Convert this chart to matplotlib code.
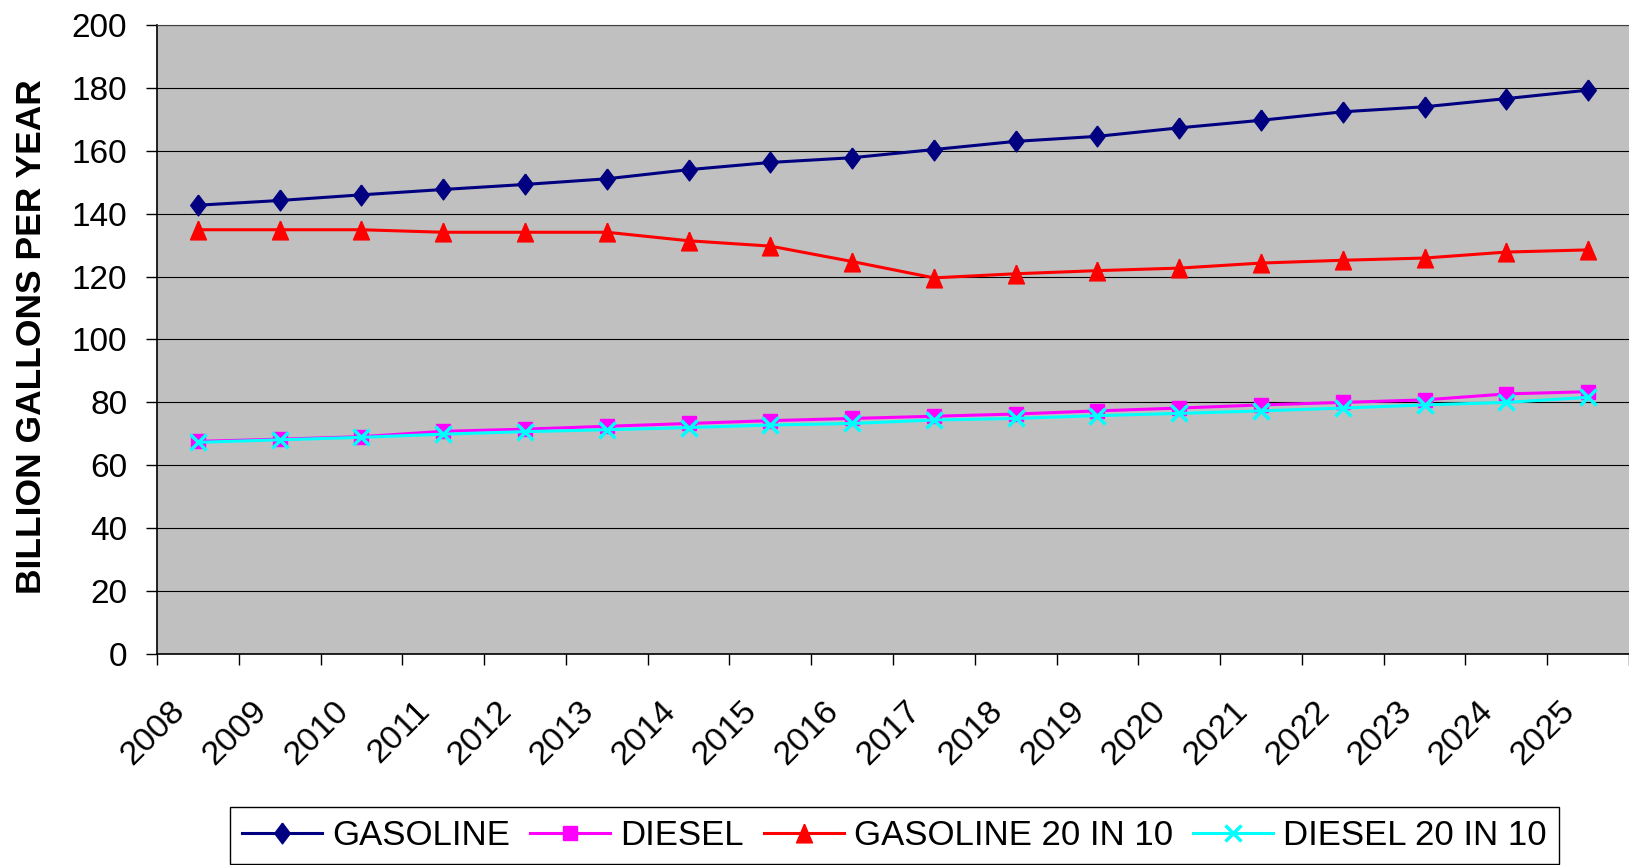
import matplotlib
matplotlib.use("Agg")
import matplotlib.pyplot as plt
import matplotlib.transforms as mtransforms
import numpy as np

years = ["2008", "2009", "2010", "2011", "2012", "2013", "2014", "2015", "2016",
         "2017", "2018", "2019", "2020", "2021", "2022", "2023", "2024", "2025"]
gasoline = [142.7, 144.2, 146.0, 147.7, 149.3, 151.1, 154.0, 156.3, 157.8,
            160.4, 163.0, 164.6, 167.3, 169.7, 172.4, 174.0, 176.6, 179.3]
diesel = [67.6, 68.3, 69.1, 70.8, 71.5, 72.4, 73.3, 74.2, 74.9,
          75.6, 76.3, 77.3, 78.2, 79.2, 80.0, 80.8, 82.7, 83.4]
gasoline_20in10 = [134.9, 134.9, 134.9, 134.1, 134.1, 134.1, 131.4, 129.7, 124.8,
                   119.6, 120.9, 121.9, 122.7, 124.3, 125.2, 125.9, 127.8, 128.5]
diesel_20in10 = [67.3, 68.1, 68.9, 69.9, 70.7, 71.3, 72.0, 72.8, 73.3,
                 74.4, 74.9, 75.8, 76.5, 77.3, 78.2, 79.2, 80.0, 81.6]
series_names = ["GASOLINE", "DIESEL", "GASOLINE 20 IN 10", "DIESEL 20 IN 10"]
y_ticks = [0, 20, 40, 60, 80, 100, 120, 140, 160, 180, 200]

plt.rcParams['font.family'] = ['Liberation Sans', 'DejaVu Sans']

fig = plt.figure(figsize=(16.29, 8.65), dpi=100)
ax = fig.add_axes([157/1629, 1-654/865, (1629-157)/1629, 629/865])
ax.set_facecolor('#C0C0C0')

x = np.arange(len(years))
diamond = [(0, 1), (0.75, 0), (0, -1), (-0.75, 0), (0, 1)]
triangle = [(0, 1), (0.85, -1), (-0.85, -1), (0, 1)]

ax.plot(x, gasoline, color='#000080', lw=2.2, marker=diamond, markersize=15,
        markerfacecolor='#000080', markeredgecolor='#000080', label=series_names[0], zorder=3)
ax.plot(x, diesel, color='#FF00FF', lw=2.2, marker='s', markersize=10,
        markerfacecolor='#FF00FF', markeredgecolor='#FF00FF', label=series_names[1], zorder=3)
ax.plot(x, gasoline_20in10, color='#FF0000', lw=2.2, marker=triangle, markersize=13.5,
        markerfacecolor='#FF0000', markeredgecolor='#FF0000', label=series_names[2], zorder=3)
ax.plot(x, diesel_20in10, color='#00FFFF', lw=2.2, marker='x', markersize=11,
        markeredgewidth=2.5, markeredgecolor='#00FFFF', label=series_names[3], zorder=3)

ax.set_xlim(-0.5, -0.5 + 1472/82.1)
ax.set_ylim(0, 200)
ax.set_yticks(y_ticks)
ax.set_yticklabels([str(v) for v in y_ticks])
ax.yaxis.grid(True, color='#000000', lw=0.8)
ax.set_axisbelow(True)

# category boundaries as major ticks, labels at centers as minor ticks
ax.set_xticks(np.arange(len(years) + 1) - 0.5)
ax.set_xticklabels([])
ax.set_xticks(x, minor=True)
ax.set_xticklabels(years, minor=True, rotation=45, ha='right', va='center',
                   rotation_mode='anchor', fontsize=24.5)
ax.tick_params(axis='x', which='major', direction='out', length=8, width=1, color='black')
ax.tick_params(axis='x', which='minor', length=0, pad=37.4)
ax.tick_params(axis='y', direction='out', length=8, width=1, color='black',
               labelsize=24, pad=13.5)
offset = mtransforms.ScaledTranslation(-0.18, 0, fig.dpi_scale_trans)
for lbl in ax.get_xticklabels(minor=True):
    lbl.set_transform(lbl.get_transform() + offset)

ax.spines['right'].set_visible(False)
ax.spines['top'].set_color('#404040')
ax.spines['top'].set_linewidth(0.8)
for s in ['left', 'bottom']:
    ax.spines[s].set_color('#000000')
    ax.spines[s].set_linewidth(1.2)

ax.set_ylabel("BILLION GALLONS PER YEAR", fontsize=25.5, fontweight='bold')
ax.yaxis.set_label_coords(-0.074, 0.505)

leg = fig.legend(loc='upper left', bbox_to_anchor=(230/1629, 1-807/865), ncol=4,
                 fontsize=25, frameon=True, fancybox=False, edgecolor='#000000',
                 framealpha=1, handlelength=2.3, handletextpad=0.3, columnspacing=0.57,
                 borderpad=0.35, numpoints=1, borderaxespad=0)
leg.get_frame().set_linewidth(1.0)

fig.savefig('out.png', dpi=100)
